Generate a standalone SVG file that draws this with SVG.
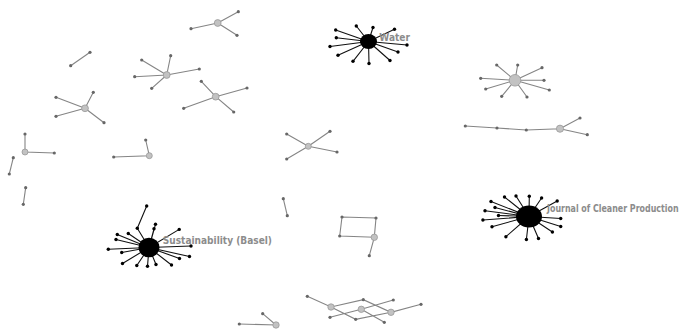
<svg xmlns="http://www.w3.org/2000/svg" width="681" height="332" viewBox="0 0 681 332">
<style>
.bg{fill:#fff}
.ge{stroke:#858585;stroke-width:1.1;fill:none}
.be{stroke:#111;stroke-width:1.1;fill:none}
.gl{fill:#676767}
.bl{fill:#000}
.gh{fill:#c2c2c2;stroke:#999;stroke-width:0.8}
.bh{fill:#000}
.lbl{fill:#8c8c8c;font-family:"DejaVu Sans Condensed","DejaVu Sans","Liberation Sans",sans-serif;font-weight:bold;font-size:11px;font-stretch:condensed}
</style>
<rect class="bg" x="0" y="0" width="681" height="332"/>
<g id="connectors">
<g class="ge">
<path d="M217.7,23L238.3,11.7M217.7,23L191,28.7M217.7,23L237,35.3"/>
<path d="M90,52.3L70.7,65.7"/>
<path d="M166.7,75L141.7,60M166.7,75L170.7,55.7M166.7,75L199.3,69M166.7,75L134.7,76.7M166.7,75L151.7,88.3"/>
<path d="M215.7,96.7L201.3,81.3M215.7,96.7L247,88M215.7,96.7L183.7,108.3M215.7,96.7L233.7,112"/>
<path d="M85,108.3L56,97.3M85,108.3L93.3,92.3M85,108.3L56,116.3M85,108.3L104,122.7"/>
<path d="M515,80.3L496.7,65M515,80.3L517.7,65M515,80.3L542,67.7M515,80.3L480.7,78.3M515,80.3L544,80.3M515,80.3L485.7,89M515,80.3L549.3,90M515,80.3L501.7,96.3M515,80.3L527,97"/>
<path d="M465.3,126L497,128L526.3,130L560,128.7L580,118M560,128.7L587.3,134.7"/>
<path d="M25,134L25,152L54.3,153"/>
<path d="M13.3,157.7L9.3,174"/>
<path d="M25.7,187.7L23.3,204.3"/>
<path d="M145.7,140L149.3,155.7L113.7,157"/>
<path d="M308.3,146.3L286.7,134M308.3,146.3L330,131.3M308.3,146.3L337,152M308.3,146.3L286.7,159"/>
<path d="M283.3,198.7L287.3,215.7"/>
<path d="M342,217L376,218L374.3,237.3L339.7,236L342,217M374.3,237.3L369.3,255.7"/>
<path d="M239.3,324L276,325L262.7,313.7"/>
<path d="M307.3,296.3L331,307L363.3,299.7L391,312.3L421,304.3M331,307L355.7,319.3L391,312.3M330,317.3L361.3,309.3L393.3,300M361.3,309.3L384.3,322.3"/>
</g>
<g class="be">
<path d="M368.5,41.5L335.7,30M368.5,41.5L356.3,26M368.5,41.5L373,27.5M368.5,41.5L394.5,29.3M368.5,41.5L336.3,37.7M368.5,41.5L330,46.5M368.5,41.5L338,55.3M368.5,41.5L353,61.3M368.5,41.5L369,63.5M368.5,41.5L390,60.5M368.5,41.5L398,52M368.5,41.5L407,45"/>
<path d="M149,247.5L117.3,234.5M149,247.5L128.3,233.5M149,247.5L116,239.5M149,247.5L108.3,249.3M149,247.5L121.7,252.5M149,247.5L122.5,263.5M149,247.5L136.8,265.5M149,247.5L147.5,266.3M149,247.5L156,264.5M149,247.5L171.5,265M149,247.5L179.5,258.5M149,247.5L189.5,256.5M149,247.5L191,246M149,247.5L179.2,229.4M149,247.5L155.5,224.3M149,247.5L154,228.8M149,247.5L137.3,228.3L146.7,206"/>
<path d="M529,216.5L491,201.5M529,216.5L504.5,197M529,216.5L516,196M529,216.5L529.3,196.3M529,216.5L541.6,198M529,216.5L557.2,201M529,216.5L485,210.7M529,216.5L495,207.5M529,216.5L482.9,220M529,216.5L498.5,215.5M529,216.5L492,226.7M529,216.5L505.9,236.7M529,216.5L526.4,239.5M529,216.5L538.5,238.5M529,216.5L552.4,232M529,216.5L560.7,226.5M529,216.5L560.7,218.5"/>
</g>
</g>
<g id="leaves-grey" class="gl">
<circle cx="238.3" cy="11.7" r="1.6"/><circle cx="191" cy="28.7" r="1.6"/><circle cx="237" cy="35.3" r="1.6"/>
<circle cx="90" cy="52.3" r="1.6"/><circle cx="70.7" cy="65.7" r="1.6"/>
<circle cx="141.7" cy="60" r="1.6"/><circle cx="170.7" cy="55.7" r="1.6"/><circle cx="199.3" cy="69" r="1.6"/><circle cx="134.7" cy="76.7" r="1.6"/><circle cx="151.7" cy="88.3" r="1.6"/>
<circle cx="201.3" cy="81.3" r="1.6"/><circle cx="247" cy="88" r="1.6"/><circle cx="183.7" cy="108.3" r="1.6"/><circle cx="233.7" cy="112" r="1.6"/>
<circle cx="56" cy="97.3" r="1.6"/><circle cx="93.3" cy="92.3" r="1.6"/><circle cx="56" cy="116.3" r="1.6"/><circle cx="104" cy="122.7" r="1.6"/>
<circle cx="496.7" cy="65" r="1.6"/><circle cx="517.7" cy="65" r="1.6"/><circle cx="542" cy="67.7" r="1.6"/><circle cx="480.7" cy="78.3" r="1.6"/><circle cx="544" cy="80.3" r="1.6"/><circle cx="485.7" cy="89" r="1.6"/><circle cx="549.3" cy="90" r="1.6"/><circle cx="501.7" cy="96.3" r="1.6"/><circle cx="527" cy="97" r="1.6"/>
<circle cx="465.3" cy="126" r="1.6"/><circle cx="497" cy="128" r="1.6"/><circle cx="526.3" cy="130" r="1.6"/><circle cx="580" cy="118" r="1.6"/><circle cx="587.3" cy="134.7" r="1.6"/>
<circle cx="25" cy="134" r="1.6"/><circle cx="54.3" cy="153" r="1.6"/>
<circle cx="13.3" cy="157.7" r="1.6"/><circle cx="9.3" cy="174" r="1.6"/>
<circle cx="25.7" cy="187.7" r="1.6"/><circle cx="23.3" cy="204.3" r="1.6"/>
<circle cx="145.7" cy="140" r="1.6"/><circle cx="113.7" cy="157" r="1.6"/>
<circle cx="286.7" cy="134" r="1.6"/><circle cx="330" cy="131.3" r="1.6"/><circle cx="337" cy="152" r="1.6"/><circle cx="286.7" cy="159" r="1.6"/>
<circle cx="283.3" cy="198.7" r="1.6"/><circle cx="287.3" cy="215.7" r="1.6"/>
<circle cx="342" cy="217" r="1.6"/><circle cx="376" cy="218" r="1.6"/><circle cx="339.7" cy="236" r="1.6"/><circle cx="369.3" cy="255.7" r="1.6"/>
<circle cx="239.3" cy="324" r="1.6"/><circle cx="262.7" cy="313.7" r="1.6"/>
<circle cx="307.3" cy="296.3" r="1.6"/><circle cx="363.3" cy="299.7" r="1.6"/><circle cx="393.3" cy="300" r="1.6"/><circle cx="421" cy="304.3" r="1.6"/><circle cx="330" cy="317.3" r="1.6"/><circle cx="355.7" cy="319.3" r="1.6"/><circle cx="384.3" cy="322.3" r="1.6"/>
</g>
<g id="leaves-black" class="bl">
<circle cx="335.7" cy="30" r="1.7"/><circle cx="356.3" cy="26" r="1.7"/><circle cx="373" cy="27.5" r="1.7"/><circle cx="394.5" cy="29.3" r="1.7"/><circle cx="336.3" cy="37.7" r="1.7"/><circle cx="330" cy="46.5" r="1.7"/><circle cx="338" cy="55.3" r="1.7"/><circle cx="353" cy="61.3" r="1.7"/><circle cx="369" cy="63.5" r="1.7"/><circle cx="390" cy="60.5" r="1.7"/><circle cx="398" cy="52" r="1.7"/><circle cx="407" cy="45" r="1.7"/>
<circle cx="117.3" cy="234.5" r="1.7"/><circle cx="128.3" cy="233.5" r="1.7"/><circle cx="116" cy="239.5" r="1.7"/><circle cx="108.3" cy="249.3" r="1.7"/><circle cx="121.7" cy="252.5" r="1.7"/><circle cx="122.5" cy="263.5" r="1.7"/><circle cx="136.8" cy="265.5" r="1.7"/><circle cx="147.5" cy="266.3" r="1.7"/><circle cx="156" cy="264.5" r="1.7"/><circle cx="171.5" cy="265" r="1.7"/><circle cx="179.5" cy="258.5" r="1.7"/><circle cx="189.5" cy="256.5" r="1.7"/><circle cx="191" cy="246" r="1.7"/><circle cx="179.2" cy="229.4" r="1.7"/><circle cx="155.5" cy="224.3" r="1.7"/><circle cx="154" cy="228.8" r="1.7"/><circle cx="137.3" cy="228.3" r="1.7"/><circle cx="146.7" cy="206" r="1.7"/>
<circle cx="491" cy="201.5" r="1.7"/><circle cx="504.5" cy="197" r="1.7"/><circle cx="516" cy="196" r="1.7"/><circle cx="529.3" cy="196.3" r="1.7"/><circle cx="541.6" cy="198" r="1.7"/><circle cx="557.2" cy="201" r="1.7"/><circle cx="485" cy="210.7" r="1.7"/><circle cx="495" cy="207.5" r="1.7"/><circle cx="482.9" cy="220" r="1.7"/><circle cx="498.5" cy="215.5" r="1.7"/><circle cx="492" cy="226.7" r="1.7"/><circle cx="505.9" cy="236.7" r="1.7"/><circle cx="526.4" cy="239.5" r="1.7"/><circle cx="538.5" cy="238.5" r="1.7"/><circle cx="552.4" cy="232" r="1.7"/><circle cx="560.7" cy="226.5" r="1.7"/><circle cx="560.7" cy="218.5" r="1.7"/>
</g>
<g id="hub-1" class="gh"><circle cx="217.7" cy="23" r="3.4"/></g>
<g id="hub-2" class="gh"><circle cx="166.7" cy="75" r="3.4"/></g>
<g id="hub-3" class="gh"><circle cx="215.7" cy="96.7" r="3.4"/></g>
<g id="hub-4" class="gh"><circle cx="85" cy="108.3" r="3.4"/></g>
<g id="hub-5" class="gh"><circle cx="515" cy="80.3" r="5.8"/></g>
<g id="hub-6" class="gh"><circle cx="560" cy="128.7" r="3.6"/></g>
<g id="hub-7" class="gh"><circle cx="25" cy="152" r="3"/></g>
<g id="hub-8" class="gh"><circle cx="149.3" cy="155.7" r="3"/></g>
<g id="hub-9" class="gh"><circle cx="308.3" cy="146.3" r="3"/></g>
<g id="hub-10" class="gh"><circle cx="374.3" cy="237.3" r="3.2"/></g>
<g id="hub-11" class="gh"><circle cx="276" cy="325" r="3.2"/></g>
<g id="hub-12" class="gh"><circle cx="331" cy="307" r="3.2"/></g>
<g id="hub-13" class="gh"><circle cx="361.3" cy="309.3" r="3.2"/></g>
<g id="hub-14" class="gh"><circle cx="391" cy="312.3" r="3.2"/></g>
<g id="water"><ellipse class="bh" cx="368.5" cy="41.5" rx="8.5" ry="7.5"/><text class="lbl" x="379.3" y="41" textLength="30.7" lengthAdjust="spacingAndGlyphs">Water</text></g>
<g id="sustainability"><ellipse class="bh" cx="149" cy="247.5" rx="10.5" ry="9.8"/><text class="lbl" x="162.8" y="244" textLength="109.2" lengthAdjust="spacingAndGlyphs">Sustainability (Basel)</text></g>
<g id="journal"><ellipse class="bh" cx="529" cy="216.5" rx="13" ry="11"/><text class="lbl" transform="translate(547,212) scale(0.8,1)" x="0" y="0">Journal of Cleaner Production</text></g>
</svg>
